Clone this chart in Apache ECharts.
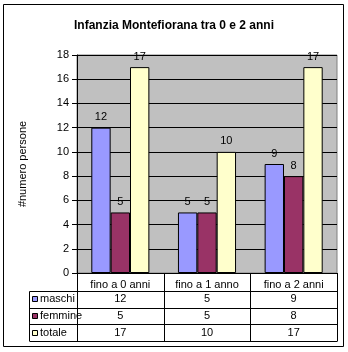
<!DOCTYPE html>
<html>
<head>
<meta charset="utf-8">
<script src="https://cdn.jsdelivr.net/npm/echarts@6/dist/echarts.min.js"></script>
<style>
html,body{margin:0;padding:0;background:#fff;}
#chart{width:348px;height:352px;}
</style>
</head>
<body>
<div id="chart"></div>
<script>
const categories = ['fino a 0 anni', 'fino a 1 anno', 'fino a 2 anni'];
const seriesNames = ['maschi', 'femmine', 'totale'];
const maschi = [12, 5, 9];
const femmine = [5, 5, 8];
const totale = [17, 10, 17];
const yTicks = [0, 2, 4, 6, 8, 10, 12, 14, 16, 18];
const colors = ['#9999FF', '#993366', '#FFFFCC'];
const allValues = [maschi, femmine, totale];

const FONT = '"Liberation Sans", Arial, sans-serif';
const chart = echarts.init(document.getElementById('chart'), null, {renderer: 'canvas'});

const option = {
  animation: false,
  backgroundColor: '#fff',
  title: {
    text: 'Infanzia Montefiorana tra 0 e 2 anni',
    left: 'center',
    top: 15,
    textStyle: {fontFamily: FONT, fontSize: 12, fontWeight: 'bold', color: '#000'}
  },
  grid: {
    left: 77, right: 11, top: 55, height: 218,
    show: true, backgroundColor: '#C0C0C0', borderColor: '#808080', borderWidth: 1
  },
  xAxis: {
    type: 'category',
    data: categories,
    axisLine: {show: true, lineStyle: {color: '#000'}},
    axisTick: {show: false},
    axisLabel: {fontFamily: FONT, fontSize: 11, color: '#000', margin: 6},
    splitLine: {show: false}
  },
  yAxis: {
    type: 'value',
    min: yTicks[0], max: yTicks[yTicks.length - 1], interval: 2,
    name: '#numero persone',
    nameLocation: 'middle',
    nameGap: 49,
    nameRotate: 90,
    nameTextStyle: {fontFamily: FONT, fontSize: 11, color: '#000'},
    axisLine: {show: true, lineStyle: {color: '#000'}},
    axisTick: {show: true, inside: false, length: 5, lineStyle: {color: '#000'}},
    axisLabel: {fontFamily: FONT, fontSize: 11, color: '#000', margin: 8},
    splitLine: {show: true, lineStyle: {color: '#000', width: 1}}
  },
  series: seriesNames.map((name, i) => ({
    name: name,
    type: 'bar',
    data: allValues[i],
    barGap: '0%',
    barCategoryGap: '33%',
    itemStyle: {color: colors[i], borderColor: '#000', borderWidth: 1},
    label: {show: true, position: 'top', distance: 5, fontFamily: FONT, fontSize: 11, color: '#000'}
  }))
};
chart.setOption(option);

// Build data table under the chart from axis positions
const c0 = chart.convertToPixel({xAxisIndex: 0}, 0);
const c1 = chart.convertToPixel({xAxisIndex: 0}, 1);
const band = c1 - c0;
const left = c0 - band / 2;
const right = left + band * categories.length;
const y0 = chart.convertToPixel({yAxisIndex: 0}, 0);
const headerBottom = y0 + 18;
const rowH = 16.7;
const tableLeft = 29;
const lineStyle = {stroke: '#000', lineWidth: 1};
const g = [];
const px = v => Math.round(v) + 0.5;

// outer border
g.push({type: 'rect', shape: {x: 3.5, y: 4.5, width: 340, height: 342}, style: {fill: 'none', stroke: '#000', lineWidth: 1}, silent: true});

// vertical lines in header region + rows
for (let i = 0; i <= categories.length; i++) {
  const x = px(left + band * i);
  g.push({type: 'line', shape: {x1: x, y1: y0, x2: x, y2: headerBottom + rowH * 3}, style: lineStyle});
}
// legend column left line
g.push({type: 'line', shape: {x1: px(tableLeft), y1: px(headerBottom), x2: px(tableLeft), y2: headerBottom + rowH * 3}, style: lineStyle});
// horizontal lines
for (let r = 0; r <= 3; r++) {
  const y = px(headerBottom + rowH * r);
  g.push({type: 'line', shape: {x1: px(tableLeft), y1: y, x2: px(right), y2: y}, style: lineStyle});
}
// rows
for (let r = 0; r < seriesNames.length; r++) {
  const cy = headerBottom + rowH * r + rowH / 2;
  g.push({type: 'rect', shape: {x: px(tableLeft + 3), y: Math.round(cy - 3) + 0.5, width: 5, height: 5},
          style: {fill: colors[r], stroke: '#000', lineWidth: 1}});
  g.push({type: 'text', style: {text: seriesNames[r], x: tableLeft + 11, y: cy, textVerticalAlign: 'middle', verticalAlign: 'middle',
          font: '11px ' + FONT, fill: '#000'}});
  for (let c = 0; c < categories.length; c++) {
    g.push({type: 'text', style: {text: String(allValues[r][c]), x: left + band * c + band / 2, y: cy,
            textAlign: 'center', align: 'center', verticalAlign: 'middle', textVerticalAlign: 'middle',
            font: '11px ' + FONT, fill: '#000'}});
  }
}
chart.setOption({graphic: {elements: g}});
</script>
</body>
</html>
